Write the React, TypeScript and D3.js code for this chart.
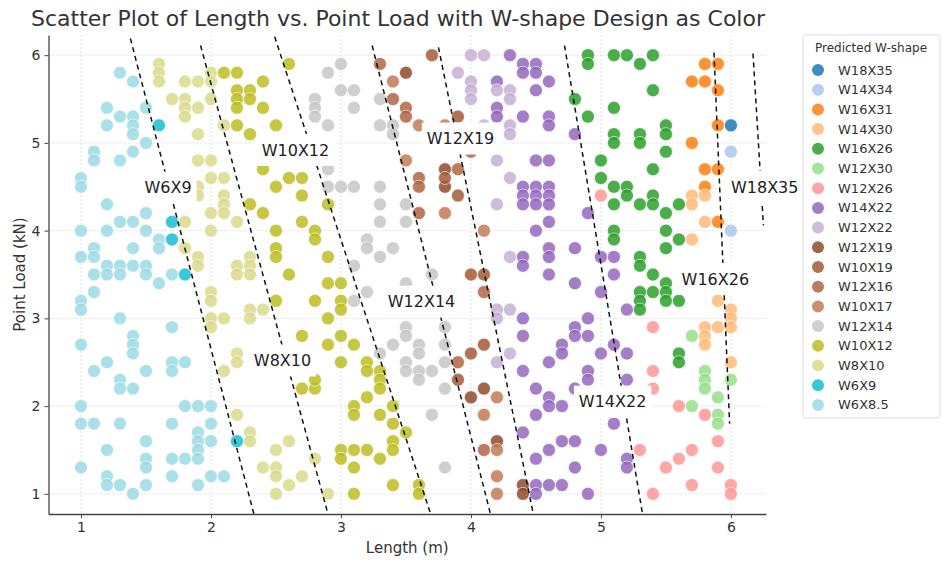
import React, { useEffect, useRef } from 'react';
import * as d3 from 'd3';

const W = 945;
const H = 563;

const shapes = ['W18X35', 'W14X34', 'W16X31', 'W14X30', 'W16X26', 'W12X30', 'W12X26', 'W14X22', 'W12X22',
  'W12X19', 'W10X19', 'W12X16', 'W10X17', 'W12X14', 'W10X12', 'W8X10', 'W6X9', 'W6X8.5'];
const colors = ['#1f77b4', '#aec7e8', '#ff7f0e', '#ffbb78', '#2ca02c', '#98df8a', '#ff9896', '#9467bd', '#c5b0d5',
  '#8e4b2b', '#a45a37', '#b06544', '#c27a55', '#c7c7c7', '#bcbd22', '#dbdb8d', '#17becf', '#9edae5'];

// [length (m), point load (kN)] per predicted shape
const W18X35 = [[6.0, 5.2]];
const W14X34 = [[6.0, 4.9], [6.0, 4.0]];
const W16X31 = [[5.8, 5.9], [5.9, 5.9], [5.7, 5.7], [5.8, 5.7], [5.9, 5.6], [5.9, 5.2], [5.7, 5.0], [5.8, 4.7], [5.9, 4.7],
  [5.8, 4.5], [5.9, 4.1]];
const W14X30 = [[5.7, 4.4], [5.8, 4.4], [5.7, 4.3], [5.8, 4.1], [5.7, 3.9], [5.9, 3.2], [6.0, 3.1], [6.0, 3.0], [6.0, 2.9],
  [5.8, 2.9], [5.9, 2.9], [5.8, 2.8], [5.8, 2.7], [6.0, 2.5]];
const W16X26 = [[4.9, 6.0], [4.9, 5.9], [5.1, 6.0], [5.2, 6.0], [5.3, 5.9], [5.4, 6.0], [5.4, 5.6], [4.8, 5.5], [4.9, 5.3],
  [5.1, 5.4], [5.1, 5.1], [5.1, 5.0], [5.3, 5.1], [5.3, 5.0], [5.5, 5.2], [5.5, 5.1], [5.5, 4.9], [5.0, 4.8], [5.0, 4.6],
  [5.4, 4.7], [5.1, 4.5], [5.2, 4.5], [5.2, 4.4], [5.4, 4.4], [5.1, 4.3], [5.3, 4.3], [5.4, 4.3], [5.6, 4.3], [5.5, 4.2],
  [5.1, 4.0], [5.1, 3.9], [5.5, 4.0], [5.6, 3.9], [5.5, 3.8], [5.3, 3.7], [5.3, 3.6], [5.4, 3.5], [5.5, 3.4], [5.3, 3.3],
  [5.4, 3.3], [5.5, 3.3], [5.3, 3.2], [5.5, 3.2], [5.6, 3.2], [5.3, 3.1], [5.6, 2.6], [5.6, 2.5]];
const W12X30 = [[5.7, 2.8], [5.8, 2.4], [5.8, 2.3], [5.8, 2.2], [6.0, 2.3], [5.7, 2.0], [5.9, 2.1], [5.9, 1.9], [5.9, 1.8]];
const W12X26 = [[5.0, 4.4], [5.4, 2.9], [5.4, 2.4], [5.4, 2.2], [5.6, 2.0], [5.8, 1.9], [5.9, 1.6], [5.3, 1.5], [5.7, 1.5],
  [5.6, 1.4], [5.5, 1.3], [5.9, 1.3], [5.7, 1.1], [5.4, 1.0], [6.0, 1.1], [6.0, 1.0]];
const W14X22 = [[4.3, 6.0], [4.4, 5.9], [4.4, 5.8], [4.2, 5.7], [4.2, 5.4], [4.2, 5.3], [4.4, 5.3], [4.5, 5.6], [4.4, 4.5],
  [4.4, 4.4], [4.5, 4.5], [4.5, 5.9], [4.5, 5.8], [4.6, 5.7], [4.6, 5.3], [4.6, 5.2], [4.8, 5.1], [4.5, 4.8], [4.6, 4.8],
  [4.6, 4.5], [4.5, 4.4], [4.6, 4.4], [4.4, 4.3], [4.4, 3.7], [4.4, 3.6], [4.5, 4.0], [4.4, 3.0], [4.4, 2.8], [4.5, 4.3],
  [4.6, 4.3], [4.6, 4.1], [4.6, 3.8], [4.6, 3.7], [4.8, 3.8], [4.9, 4.2], [4.6, 3.5], [4.8, 3.4], [5.0, 3.7], [5.1, 3.7],
  [5.1, 3.5], [5.0, 3.3], [5.2, 3.1], [4.9, 3.0], [4.8, 2.9], [4.8, 2.8], [4.9, 2.8], [4.7, 2.7], [4.7, 2.6], [4.6, 2.5],
  [5.0, 2.6], [5.1, 2.7], [5.2, 2.6], [4.4, 2.4], [4.5, 2.2], [4.5, 1.9], [4.4, 1.7], [4.5, 1.4], [4.5, 1.1], [4.5, 1.0],
  [4.6, 2.1], [4.6, 2.0], [4.7, 2.0], [4.9, 2.4], [4.9, 2.3], [4.8, 2.2], [5.2, 2.3], [5.1, 1.8], [4.7, 1.6], [4.8, 1.6],
  [4.6, 1.5], [5.0, 1.5], [4.8, 1.3], [5.2, 1.4], [5.2, 1.3], [4.6, 1.1], [4.7, 1.1], [4.9, 1.0]];
const W12X22 = [[3.9, 5.8], [4.0, 6.0], [4.1, 6.0], [4.0, 5.7], [4.0, 5.6], [4.0, 5.5], [4.2, 5.6], [4.3, 5.6], [4.3, 5.5],
  [4.2, 4.8], [4.3, 4.6], [4.3, 5.2], [4.3, 5.1], [4.1, 5.2], [4.2, 4.3], [4.3, 3.7], [4.2, 3.1], [4.3, 3.1], [4.2, 3.0],
  [4.3, 2.6], [4.2, 2.5]];
const W12X19 = [[3.5, 5.8], [3.8, 4.7], [3.8, 4.5], [4.0, 2.1], [4.1, 2.2], [4.4, 1.1], [4.4, 1.0], [4.2, 1.6]];
const W10X19 = [[3.7, 6.0], [3.9, 5.3], [3.8, 4.6], [3.9, 4.4], [4.0, 3.5], [4.1, 3.5], [4.1, 2.7], [4.0, 2.6], [3.9, 2.3]];
const W12X16 = [[3.3, 5.9], [3.4, 5.5], [3.5, 5.4], [3.5, 5.3], [3.6, 4.6], [3.6, 4.5], [3.9, 4.7], [4.0, 4.9], [3.6, 4.2],
  [4.1, 3.3], [3.9, 2.5], [4.1, 1.5]];
const W10X17 = [[3.4, 5.7], [3.6, 5.2], [3.8, 5.2], [3.5, 4.8], [3.8, 4.2], [4.1, 4.0], [4.2, 2.1], [4.1, 1.9], [4.2, 1.5],
  [4.2, 1.2], [4.2, 1.0]];
const W12X14 = [[3.0, 5.9], [2.9, 5.8], [3.0, 5.6], [3.1, 5.6], [2.8, 5.5], [2.8, 5.4], [2.8, 5.3], [3.1, 5.4], [2.9, 5.2],
  [3.3, 5.5], [3.3, 5.2], [3.4, 5.2], [3.4, 5.1], [2.9, 4.7], [2.9, 4.5], [3.0, 4.5], [3.1, 4.5], [3.3, 4.5], [3.3, 4.3],
  [3.5, 4.3], [3.3, 4.1], [3.5, 4.1], [3.2, 3.9], [3.2, 3.8], [3.4, 3.8], [3.3, 3.7], [3.1, 3.6], [3.5, 3.4], [3.7, 3.5],
  [3.2, 3.3], [3.1, 3.2], [3.5, 2.9], [3.5, 2.8], [3.4, 2.7], [3.6, 2.7], [3.6, 2.6], [3.8, 2.9], [3.8, 2.7], [3.3, 2.6],
  [3.5, 2.5], [3.8, 2.5], [3.5, 2.4], [3.6, 2.4], [3.7, 2.4], [3.6, 2.3], [3.8, 2.2], [3.7, 1.9], [3.8, 1.3]];
const W10X12 = [[2.1, 5.8], [2.2, 5.8], [2.2, 5.6], [2.3, 5.6], [2.2, 5.5], [2.3, 5.5], [2.2, 5.4], [2.4, 5.7], [2.4, 5.4],
  [2.2, 5.2], [2.3, 5.1], [2.5, 5.2], [2.6, 5.9], [2.4, 4.9], [2.4, 4.7], [2.5, 4.5], [2.6, 4.6], [2.7, 4.6], [2.3, 4.3],
  [2.4, 4.2], [2.5, 4.0], [2.5, 3.8], [2.5, 3.7], [2.6, 3.5], [2.5, 3.2], [2.7, 4.4], [2.9, 4.3], [2.7, 4.1], [2.8, 4.0],
  [2.8, 3.9], [2.9, 3.7], [2.9, 3.4], [3.0, 3.4], [2.8, 3.2], [3.0, 3.2], [3.0, 3.1], [2.9, 3.0], [2.7, 2.8], [2.9, 2.7],
  [3.0, 2.8], [3.1, 2.7], [3.0, 2.5], [3.2, 2.5], [3.2, 2.4], [3.3, 2.4], [3.3, 2.3], [3.3, 2.2], [2.7, 2.2], [2.8, 2.2],
  [2.8, 2.3], [3.2, 2.1], [3.1, 2.0], [3.1, 1.9], [3.3, 1.9], [3.4, 2.0], [3.4, 1.8], [3.5, 1.7], [3.4, 1.6], [3.4, 1.5],
  [3.0, 1.5], [3.0, 1.4], [3.1, 1.5], [3.2, 1.5], [3.3, 1.4], [3.1, 1.3], [3.4, 1.1], [3.6, 1.1], [3.6, 1.0], [3.1, 1.0]];
const W8X10 = [[1.6, 5.9], [1.6, 5.8], [1.6, 5.7], [1.8, 5.7], [1.9, 5.7], [2.0, 5.8], [2.0, 5.7], [2.0, 5.5], [1.7, 5.5],
  [1.8, 5.5], [1.8, 5.4], [1.9, 5.4], [1.8, 5.3], [1.9, 5.1], [1.9, 4.8], [2.0, 4.8], [2.0, 4.6], [2.1, 4.6], [2.1, 4.4],
  [1.7, 4.6], [1.9, 4.5], [1.9, 4.4], [2.1, 5.2], [1.8, 4.1], [2.0, 4.2], [2.1, 4.3], [2.1, 4.2], [2.2, 4.1], [2.0, 4.0],
  [1.8, 3.8], [1.9, 3.7], [1.9, 3.6], [2.2, 3.6], [2.3, 3.7], [2.3, 3.6], [2.2, 3.5], [2.3, 3.5], [2.0, 3.3], [2.0, 3.2],
  [2.0, 3.0], [2.1, 3.0], [2.0, 2.9], [2.3, 3.1], [2.4, 3.1], [2.3, 3.0], [2.2, 2.6], [2.2, 2.5], [2.1, 2.4], [2.2, 1.9],
  [2.3, 1.7], [2.3, 1.6], [2.6, 1.6], [2.5, 1.5], [2.4, 1.3], [2.5, 1.3], [2.5, 1.2], [2.6, 1.1], [2.5, 1.0], [2.7, 1.2],
  [2.8, 1.4], [2.9, 1.0]];
const W6X9 = [[1.6, 5.2], [1.7, 4.1], [1.7, 3.9], [1.8, 3.5], [2.2, 1.6]];
const W6X85 = [[1.3, 5.8], [1.4, 5.7], [1.2, 5.4], [1.3, 5.3], [1.4, 5.3], [1.2, 5.2], [1.4, 5.2], [1.4, 5.1], [1.5, 5.4],
  [1.5, 5.0], [1.4, 4.9], [1.3, 4.8], [1.1, 4.9], [1.1, 4.8], [1.0, 4.6], [1.0, 4.5], [1.2, 4.3], [1.5, 4.2], [1.3, 4.1],
  [1.4, 4.1], [1.5, 4.0], [1.0, 4.0], [1.2, 4.0], [1.6, 3.9], [1.6, 3.8], [1.4, 3.8], [1.1, 3.8], [1.0, 3.7], [1.1, 3.7],
  [1.2, 3.6], [1.3, 3.6], [1.4, 3.6], [1.5, 3.6], [1.1, 3.5], [1.2, 3.5], [1.3, 3.5], [1.5, 3.5], [1.7, 3.5], [1.6, 3.4],
  [1.1, 3.3], [1.0, 3.2], [1.0, 3.1], [1.3, 3.0], [1.7, 2.9], [1.4, 2.8], [1.4, 2.7], [1.4, 2.6], [1.0, 2.7], [1.2, 2.5],
  [1.7, 2.5], [1.8, 2.5], [1.1, 2.4], [1.5, 2.4], [1.7, 2.4], [1.3, 2.3], [1.3, 2.2], [1.4, 2.2], [1.0, 2.0], [1.8, 2.0],
  [1.9, 2.0], [2.0, 2.0], [1.0, 1.8], [1.1, 1.8], [1.3, 1.8], [1.7, 1.8], [2.0, 1.8], [1.9, 1.7], [1.9, 1.6], [2.0, 1.6],
  [1.5, 1.6], [1.2, 1.5], [1.9, 1.5], [1.5, 1.4], [1.7, 1.4], [1.8, 1.4], [1.9, 1.4], [1.5, 1.3], [1.0, 1.3], [1.2, 1.2],
  [2.0, 1.2], [2.1, 1.2], [1.7, 1.2], [1.2, 1.1], [1.3, 1.1], [1.5, 1.1], [1.9, 1.1], [1.4, 1.0]];

const seriesPoints = [W18X35, W14X34, W16X31, W14X30, W16X26, W12X30, W12X26, W14X22, W12X22,
  W12X19, W10X19, W12X16, W10X17, W12X14, W10X12, W8X10, W6X9, W6X85];

const xTicks = [1, 2, 3, 4, 5, 6];
const yTicks = [1, 2, 3, 4, 5, 6];

// decision boundaries (dashed), in data units: top end then bottom end
const bndX1 = [1.38, 1.92, 2.49, 3.24, 3.75, 4.72, 5.87, 6.17];
const bndY1 = [6.19, 6.11, 6.21, 6.11, 6.09, 6.11, 6.03, 6.02];
const bndX2 = [2.33, 2.90, 3.69, 4.15, 4.48, 5.32, 5.99, 6.25];
const bndY2 = [0.77, 0.77, 0.77, 0.77, 0.77, 0.77, 1.80, 4.06];

const regionNames = ['W6X9', 'W8X10', 'W10X12', 'W12X19', 'W12X14', 'W14X22', 'W16X26', 'W18X35'];
const regionX = [1.67, 2.55, 2.65, 3.92, 3.62, 5.09, 5.88, 6.26];
const regionY = [4.49, 2.52, 4.92, 5.05, 3.19, 2.05, 3.45, 4.50];

const FONT = 'DejaVu Sans, sans-serif';

export default function App() {
  const ref = useRef<SVGSVGElement>(null);

  useEffect(() => {
    const svg = d3.select(ref.current);
    svg.selectAll('*').remove();

    const x = d3.scaleLinear().domain([0.75, 6.27]).range([48.5, 766]);
    const y = d3.scaleLinear().domain([0.77, 6.23]).range([514, 35]);
    const [x0, x1] = x.range();
    const [y0, y1] = y.range();

    svg.append('rect').attr('width', W).attr('height', H).attr('fill', '#fff');

    // grid
    const grid = svg.append('g');
    grid.selectAll('.gx').data(xTicks).enter().append('line')
      .attr('x1', d => x(d)).attr('x2', d => x(d)).attr('y1', y1).attr('y2', y0)
      .attr('stroke', '#d9d9d9').attr('stroke-width', 0.8).attr('stroke-dasharray', '2,2');
    grid.selectAll('.gy').data(yTicks).enter().append('line')
      .attr('x1', x0).attr('x2', x1).attr('y1', d => y(d)).attr('y2', d => y(d))
      .attr('stroke', '#d9d9d9').attr('stroke-width', 0.8).attr('stroke-dasharray', '2,2');

    // points
    const all: { x: number; y: number; c: string }[] = [];
    seriesPoints.forEach((arr, i) => arr.forEach(p => all.push({ x: p[0], y: p[1], c: colors[i] })));
    svg.append('g').selectAll('circle').data(all).enter().append('circle')
      .attr('cx', d => x(d.x)).attr('cy', d => y(d.y)).attr('r', 6.5)
      .attr('fill', d => d.c).attr('fill-opacity', 0.85)
      .attr('stroke', '#fff').attr('stroke-width', 0.6);

    // boundaries
    svg.append('g').selectAll('line').data(bndX1).enter().append('line')
      .attr('x1', (d, i) => x(d)).attr('y1', (d, i) => y(bndY1[i]))
      .attr('x2', (d, i) => x(bndX2[i])).attr('y2', (d, i) => y(bndY2[i]))
      .attr('stroke', '#111').attr('stroke-width', 1.5).attr('stroke-dasharray', '5,4');

    // region labels
    const lab = svg.append('g').selectAll('g').data(regionNames).enter().append('g')
      .attr('transform', (d, i) => `translate(${x(regionX[i])},${y(regionY[i])})`);
    lab.append('rect').attr('fill', '#fff');
    lab.append('text').text(d => d).attr('text-anchor', 'middle').attr('dy', '0.36em')
      .attr('font-family', FONT).attr('font-size', 16).attr('fill', '#222');
    lab.each(function () {
      const g = d3.select(this);
      const bb = (g.select('text').node() as SVGTextElement).getBBox();
      g.select('rect').attr('x', bb.x - 5).attr('y', -16).attr('width', bb.width + 10).attr('height', 32);
    });

    // axes
    const xAxis = svg.append('g').attr('transform', `translate(0,${y0})`)
      .call(d3.axisBottom(x).tickValues(xTicks).tickSize(4).tickSizeOuter(0).tickPadding(4).tickFormat(d3.format('d')));
    const yAxis = svg.append('g').attr('transform', `translate(${x0},0)`)
      .call(d3.axisLeft(y).tickValues(yTicks).tickSize(4).tickSizeOuter(0).tickPadding(4).tickFormat(d3.format('d')));
    [xAxis, yAxis].forEach(a => {
      a.select('.domain').attr('stroke', '#444').attr('stroke-width', 1.3);
      a.selectAll('.tick line').attr('stroke', '#444');
      a.selectAll('.tick text').attr('font-family', FONT).attr('font-size', 14).attr('fill', '#333');
    });

    svg.append('text').attr('x', (x0 + x1) / 2).attr('y', 553).attr('text-anchor', 'middle')
      .attr('font-family', FONT).attr('font-size', 15).attr('fill', '#333').text('Length (m)');
    svg.append('text').attr('transform', `translate(25,${(y0 + y1) / 2}) rotate(-90)`).attr('text-anchor', 'middle')
      .attr('font-family', FONT).attr('font-size', 15).attr('fill', '#333').text('Point Load (kN)');
    svg.append('text').attr('x', 398).attr('y', 26).attr('text-anchor', 'middle')
      .attr('font-family', FONT).attr('font-size', 22).attr('fill', '#333')
      .text('Scatter Plot of Length vs. Point Load with W-shape Design as Color');

    // legend
    const lg = svg.append('g').attr('transform', 'translate(803,35)');
    lg.append('rect').attr('width', 137).attr('height', 383).attr('rx', 3)
      .attr('fill', '#fff').attr('stroke', '#ddd');
    lg.append('text').attr('x', 68).attr('y', 17).attr('text-anchor', 'middle')
      .attr('font-family', FONT).attr('font-size', 12).attr('fill', '#333').text('Predicted W-shape');
    const row = lg.selectAll('.row').data(shapes).enter().append('g')
      .attr('transform', (d, i) => `translate(0,${35 + i * 19.7})`);
    row.append('circle').attr('cx', 15).attr('r', 6).attr('fill', (d, i) => colors[i]).attr('fill-opacity', 0.85);
    row.append('text').attr('x', 35).attr('dy', '0.35em').attr('font-family', FONT).attr('font-size', 13)
      .attr('fill', '#333').text(d => d);
  }, []);

  return (
    <svg ref={ref} width={W} height={H} style={{ position: 'absolute', left: 0, top: 0 }} />
  );
}
